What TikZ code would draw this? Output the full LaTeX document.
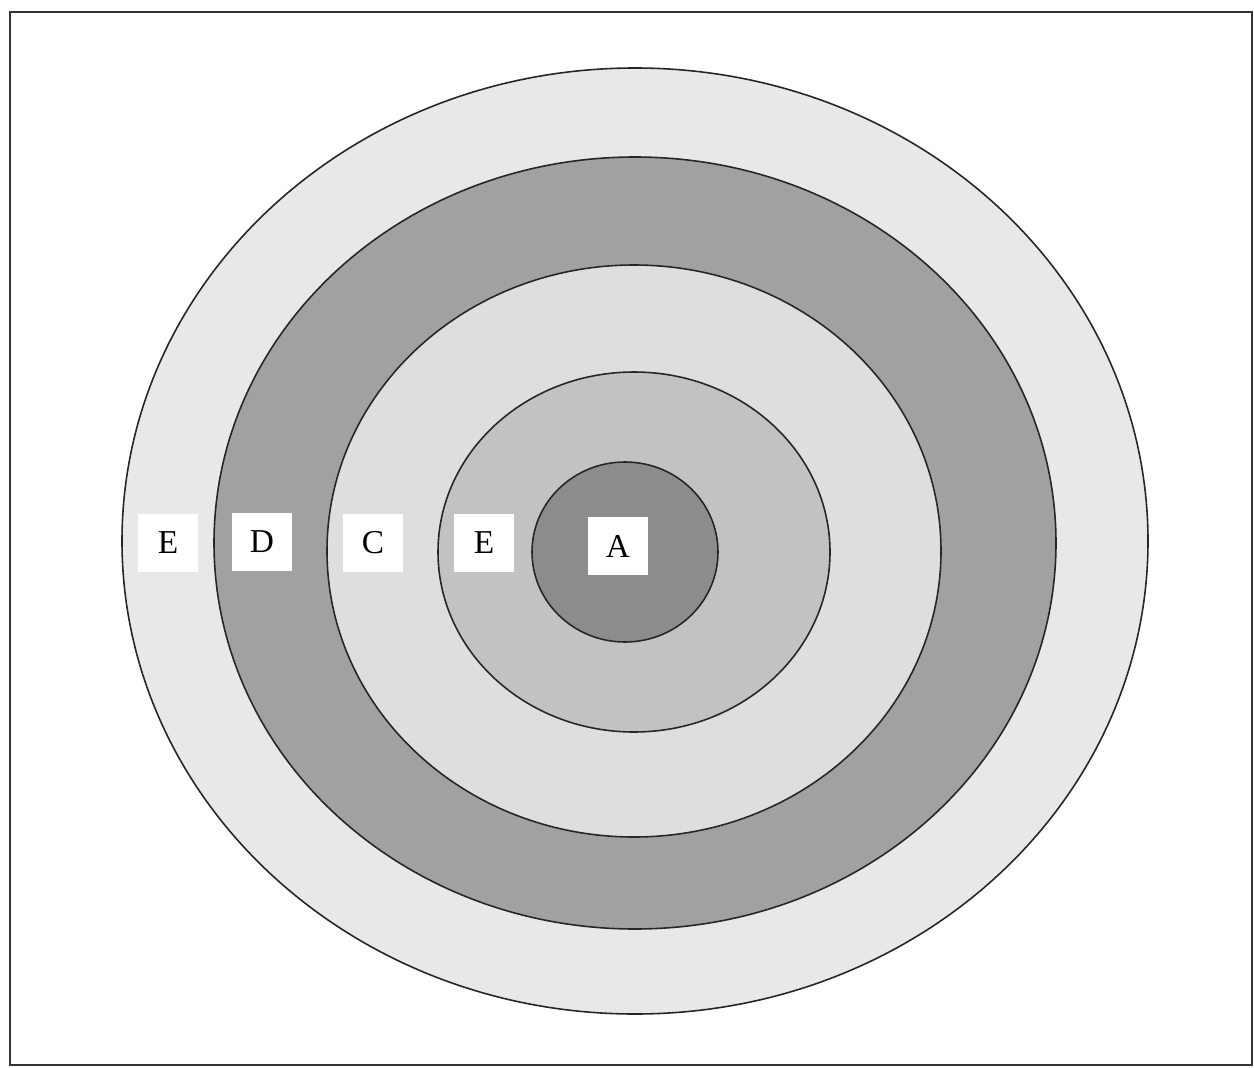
\documentclass[tikz,border=0pt]{standalone}
\usepackage{fontspec}
\setmainfont{Liberation Serif}
\begin{document}
\begin{tikzpicture}[x=0.02cm,y=-0.02cm,
  ring/.style={draw=black!85,line width=0.9pt},
  lbl/.style={fill=white,inner sep=0pt,minimum width=1.2cm,minimum height=1.15cm,font=\fontsize{19}{22}\selectfont}]
\useasboundingbox (0,0) rectangle (1254,1068);
\fill[white] (0,0) rectangle (1254,1068);
\draw[black!80,line width=0.8pt] (10,12) rectangle (1252,1065);
\filldraw[ring,fill=black!9] (635,541) ellipse [x radius=513,y radius=473];
\filldraw[ring,fill=black!37] (635,543) ellipse [x radius=421,y radius=386];
\filldraw[ring,fill=black!13] (634,551) ellipse [x radius=307,y radius=286];
\filldraw[ring,fill=black!24] (634,552) ellipse [x radius=196,y radius=180];
\filldraw[ring,fill=black!45] (625,552) ellipse [x radius=93,y radius=90];
\node[lbl] (e1) at (168,543) {E};
\node[lbl] (d) at (262,542) {D};
\node[lbl] (c) at (373,543) {C};
\node[lbl] (e2) at (484,543) {E};
\node[lbl] (a) at (618,546) {A};
\end{tikzpicture}
\end{document}
